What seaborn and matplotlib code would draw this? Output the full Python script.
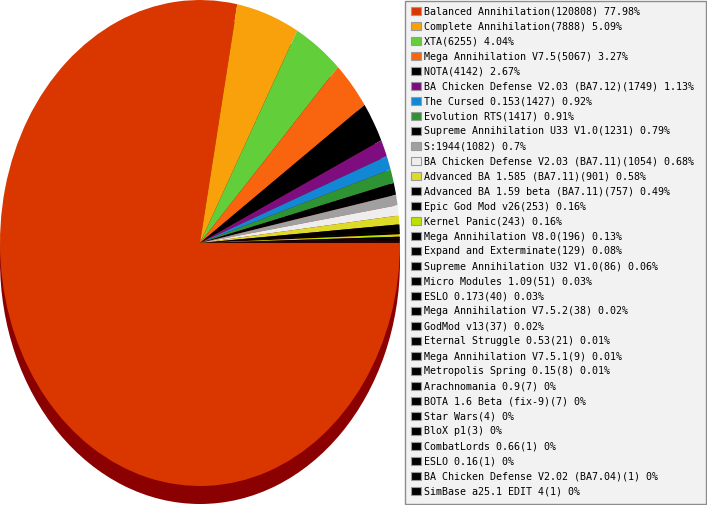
"""Mod popularity pie with shadow and a boxed legend."""

import matplotlib
matplotlib.use("Agg")
import matplotlib.pyplot as plt
from matplotlib.patches import Patch, Rectangle
import seaborn as sns


sns.set_theme(style="white")
plt.rcParams["font.family"] = ["DejaVu Sans Mono", "DejaVu Sans"]


MOD_NAMES = [
    "Balanced Annihilation",
    "Complete Annihilation",
    "XTA",
    "Mega Annihilation V7.5",
    "NOTA",
    "BA Chicken Defense V2.03 (BA7.12)",
    "The Cursed 0.153",
    "Evolution RTS",
    "Supreme Annihilation U33 V1.0",
    "S:1944",
    "BA Chicken Defense V2.03 (BA7.11)",
    "Advanced BA 1.585 (BA7.11)",
    "Advanced BA 1.59 beta (BA7.11)",
    "Epic God Mod v26",
    "Kernel Panic",
    "Mega Annihilation V8.0",
    "Expand and Exterminate",
    "Supreme Annihilation U32 V1.0",
    "Micro Modules 1.09",
    "ESLO 0.173",
    "Mega Annihilation V7.5.2",
    "GodMod v13",
    "Eternal Struggle 0.53",
    "Mega Annihilation V7.5.1",
    "Metropolis Spring 0.15",
    "Arachnomania 0.9",
    "BOTA 1.6 Beta (fix-9)",
    "Star Wars",
    "BloX p1",
    "CombatLords 0.66",
    "ESLO 0.16",
    "BA Chicken Defense V2.02 (BA7.04)",
    "SimBase a25.1 EDIT 4",
]

GAME_COUNTS = [
    120808, 7888, 6255, 5067, 4142, 1749, 1427, 1417, 1231, 1082, 1054,
    901, 757, 253, 243, 196, 129, 86, 51, 40, 38, 37, 21, 9, 8, 7, 7,
    4, 3, 1, 1, 1, 1,
]

SLICE_COLORS = [
    "#DA3600", "#F8A10A", "#62CF3A", "#F9650F", "#000000", "#7E0E80",
    "#1187D5", "#2E9433", "#000000", "#A0A0A0", "#EEEEEE", "#DCDC28",
    "#000000", "#000000", "#BEE000",
] + ["#000000"] * 18

SHADOW_COLOR = "#8B0000"

W, H = 707, 505
fig = plt.figure(figsize=(W / 100, H / 100), dpi=100)
fig.patch.set_facecolor("white")

# pie axes: x from 0..400 px, y from 0..504 px (includes the shadow below)
shadow_drop = 18 / 243
ax = fig.add_axes([0, 1 / H, 400 / W, 504 / H])
ax.pie([1], colors=[SHADOW_COLOR], radius=1, center=(0, -shadow_drop),
       wedgeprops=dict(linewidth=0))
wedges, _ = ax.pie(GAME_COUNTS, colors=SLICE_COLORS, startangle=0,
                   counterclock=False, radius=1, center=(0, 0),
                   wedgeprops=dict(linewidth=0))
ax.set_aspect("auto")
ax.set_xlim(-1, 1)
ax.set_ylim(-1 - shadow_drop, 1)
ax.axis("off")

# legend box drawn by hand so it spans the full right column
fig.patches.append(Rectangle(
    (404.5 / W, 1 - 503.5 / H), 301 / W, 502.5 / H,
    transform=fig.transFigure, facecolor="#F2F2F2", edgecolor="#8C8C8C",
    linewidth=1.0, zorder=0,
))

total = sum(GAME_COUNTS)
labels = [
    f"{name}({count}) {round(100 * count / total, 2):g}%"
    for name, count in zip(MOD_NAMES, GAME_COUNTS)
]
handles = [Patch(facecolor=c, edgecolor="#9A9A9A", linewidth=0.8)
           for c in SLICE_COLORS]

leg = fig.legend(
    handles, labels,
    loc="upper left",
    bbox_to_anchor=(411 / W, 1 - 6.5 / H),
    fontsize=7.2,
    frameon=False,
    labelcolor="black",
    handlelength=0.95,
    handleheight=0.95,
    handletextpad=0.35,
    labelspacing=0.5,
    borderpad=0,
    borderaxespad=0,
)

fig.savefig("out.png", dpi=100)
